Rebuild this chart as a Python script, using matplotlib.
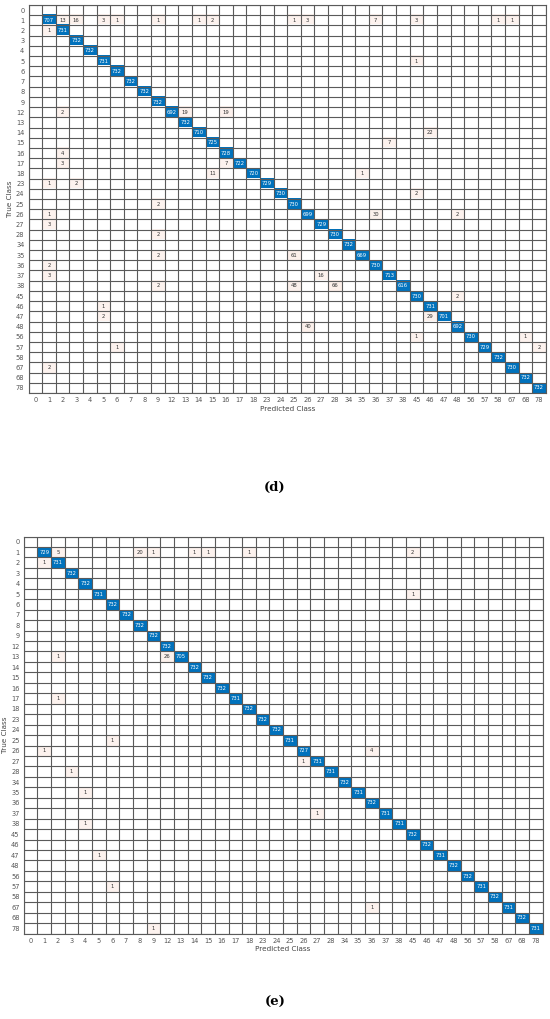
import numpy as np
import matplotlib
matplotlib.use('Agg')
import matplotlib.pyplot as plt

classes = ['0', '1', '2', '3', '4', '5', '6', '7', '8', '9', '12', '13', '14', '15', '16', '17',
           '18', '23', '24', '25', '26', '27', '28', '34', '35', '36', '37', '38', '45', '46',
           '47', '48', '56', '57', '58', '67', '68', '78']

# diagonal counts (true == predicted), one per class
diag_d = [0, 707, 731, 732, 732, 731, 732, 732, 732, 732, 692, 732, 710, 725, 728, 722,
          720, 729, 730, 730, 699, 729, 730, 732, 669, 730, 713, 616, 730, 731,
          701, 692, 730, 729, 732, 730, 732, 732]
diag_e = [0, 729, 731, 732, 732, 731, 732, 732, 732, 732, 732, 705, 732, 732, 732, 731,
          732, 732, 732, 731, 727, 731, 731, 732, 731, 732, 731, 731, 732, 732,
          731, 732, 732, 731, 732, 731, 732, 731]

# off-diagonal counts: (true class, predicted class, count)
off_d = [('1', '2', 13), ('1', '3', 16), ('1', '5', 3), ('1', '6', 1), ('1', '9', 1),
         ('1', '14', 1), ('1', '15', 2), ('1', '25', 1), ('1', '26', 3), ('1', '36', 7),
         ('1', '45', 3), ('1', '58', 1), ('1', '67', 1),
         ('2', '1', 1), ('5', '45', 1),
         ('12', '2', 2), ('12', '13', 19), ('12', '16', 19),
         ('14', '46', 22), ('15', '37', 7), ('16', '2', 4),
         ('17', '2', 3), ('17', '16', 7), ('18', '15', 11), ('18', '35', 1),
         ('23', '1', 1), ('23', '3', 2), ('24', '45', 2), ('25', '9', 2),
         ('26', '1', 1), ('26', '36', 30), ('26', '48', 2), ('27', '1', 3),
         ('28', '9', 2), ('35', '9', 2), ('35', '25', 61), ('36', '1', 2),
         ('37', '1', 3), ('37', '27', 16), ('38', '9', 2), ('38', '25', 48), ('38', '28', 66),
         ('45', '48', 2), ('46', '5', 1), ('47', '5', 2), ('47', '46', 29),
         ('48', '26', 40), ('56', '45', 1), ('56', '68', 1), ('57', '6', 1), ('57', '78', 2),
         ('67', '1', 2)]
off_e = [('1', '2', 5), ('1', '8', 20), ('1', '9', 1), ('1', '14', 1), ('1', '15', 1),
         ('1', '18', 1), ('1', '45', 2), ('2', '1', 1), ('5', '45', 1),
         ('13', '2', 1), ('13', '12', 26), ('17', '2', 1), ('25', '6', 1),
         ('26', '1', 1), ('26', '36', 4), ('27', '26', 1), ('28', '3', 1),
         ('35', '4', 1), ('37', '27', 1), ('38', '4', 1), ('47', '5', 1),
         ('57', '6', 1), ('67', '36', 1), ('78', '9', 1)]

BLUE = np.array([0.0, 0.447, 0.741])
RED = np.array([0.85, 0.325, 0.098])


def build(diag, off):
    n = len(classes)
    m = np.zeros((n, n), dtype=int)
    idx = {c: i for i, c in enumerate(classes)}
    for i, v in enumerate(diag):
        m[i, i] = v
    for t, p, v in off:
        m[idx[t], idx[p]] = v
    return m


def draw(ax, m, label):
    n = len(classes)
    vmax = m.max()
    rgb = np.ones((n, n, 3))
    for i in range(n):
        for j in range(n):
            v = m[i, j]
            if v == 0:
                continue
            if i == j:
                a = 0.9 + 0.1 * v / vmax
                rgb[i, j] = 1 - a * (1 - BLUE)
            else:
                a = 0.07 + 0.25 * v / vmax
                rgb[i, j] = 1 - a * (1 - RED)
    ax.imshow(rgb, aspect='auto', interpolation='nearest')
    for i in range(n):
        for j in range(n):
            v = m[i, j]
            if v == 0:
                continue
            ax.text(j, i, str(v), ha='center', va='center', fontsize=3.8,
                    color='white' if i == j else '#333333')
    ax.set_xticks(np.arange(n))
    ax.set_yticks(np.arange(n))
    ax.set_xticklabels(classes)
    ax.set_yticklabels(classes)
    ax.set_xticks(np.arange(-0.5, n, 1), minor=True)
    ax.set_yticks(np.arange(-0.5, n, 1), minor=True)
    ax.grid(which='minor', color='#5a5a5a', linewidth=0.8)
    ax.tick_params(which='both', length=0, labelsize=4.8, colors='#555555', pad=3)
    for s in ax.spines.values():
        s.set_color('#5a5a5a')
        s.set_linewidth(0.8)
    ax.set_xlabel('Predicted Class', fontsize=5.2, color='#444444', labelpad=2)
    ax.set_ylabel('True Class', fontsize=5.2, color='#444444', labelpad=2)


fig = plt.figure(figsize=(5.5, 10.19), dpi=100)
ax_d = fig.add_axes([0.052, 0.6143, 0.9404, 0.3808])
ax_e = fig.add_axes([0.0431, 0.0839, 0.9433, 0.3895])

draw(ax_d, build(diag_d, off_d), 'd')
draw(ax_e, build(diag_e, off_e), 'e')

fig.text(0.5, 1 - 487 / 1019, '(d)', ha='center', va='center', fontsize=9.5,
         fontweight='bold', family='DejaVu Serif')
fig.text(0.5, 1 - 1002 / 1019, '(e)', ha='center', va='center', fontsize=9.5,
         fontweight='bold', family='DejaVu Serif')

fig.savefig('out.png', dpi=100)
